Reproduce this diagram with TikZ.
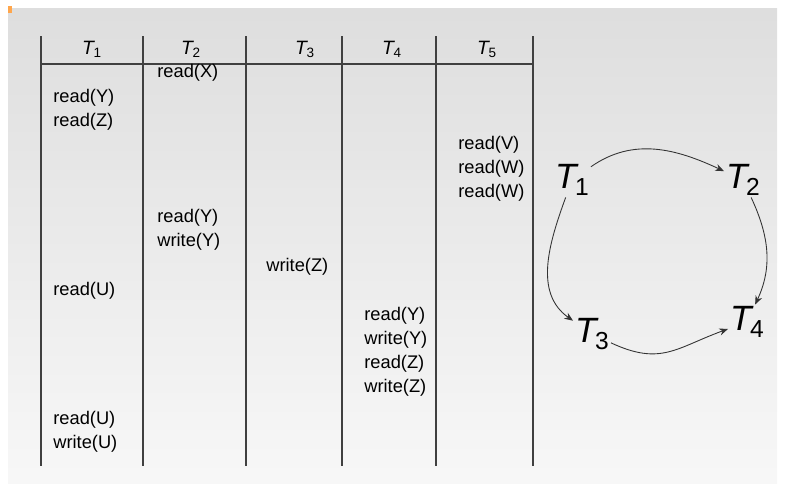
\documentclass[tikz,border=0pt]{standalone}
\usepackage{fontspec}
\setmainfont{Liberation Sans}
\usetikzlibrary{arrows.meta, positioning}

\newcommand{\thead}[1]{\textit{T}\kern-0.8pt\textsubscript{#1}}
\newcommand{\tnode}[1]{\textit{T}\kern-2pt\raisebox{-0.35ex}{\fontsize{14}{14}\selectfont #1}}

\begin{document}
\begin{tikzpicture}[
    x=0.02cm, y=-0.02cm,
    rule/.style={draw=black!75, line width=0.7pt},
    head/.style={font=\fontsize{11}{12}\selectfont},
    op/.style={anchor=west, inner sep=0pt, font=\fontsize{10.4}{12}\selectfont},
    txn/.style={inner sep=1pt, font=\fontsize{20}{22}\selectfont},
    arrow/.style={-{Stealth[length=5pt,width=4pt]}, draw=black!80, line width=0.5pt}
]
    \useasboundingbox (0,0) rectangle (787,491);
    % Background
    \shade[top color=black!13, bottom color=black!3] (8,8) rectangle (777,483);
    \fill[orange!70] (8,6) rectangle (12,13);

    % Table
    \foreach \x in {41,143,246,342,436,533}
        \draw[rule] (\x,36) -- (\x,466);
    \draw[rule] (41,64) -- (533,64);

    \node[head] (h1) at (92,49)  {\thead{1}};
    \node[head] (h2) at (191,49) {\thead{2}};
    \node[head] (h3) at (305,49) {\thead{3}};
    \node[head] (h4) at (392,49) {\thead{4}};
    \node[head] (h5) at (487,49) {\thead{5}};

    % Operations
    \node[op] (x2) at (157,73)  {read(X)};
    \node[op] (y1) at (53,98)   {read(Y)};
    \node[op] (z1) at (53,122)  {read(Z)};
    \node[op] (v5) at (458,145) {read(V)};
    \node[op] (w5) at (458,169) {read(W)};
    \node[op] (ww5) at (458,193) {read(W)};
    \node[op] (y2) at (157,218) {read(Y)};
    \node[op] (wy2) at (157,242) {write(Y)};
    \node[op] (wz3) at (266,267) {write(Z)};
    \node[op] (u1) at (53,291)  {read(U)};
    \node[op] (y4) at (364,316) {read(Y)};
    \node[op] (wy4) at (364,340) {write(Y)};
    \node[op] (z4) at (364,364) {read(Z)};
    \node[op] (wz4) at (364,388) {write(Z)};
    \node[op] (uu1) at (53,420) {read(U)};
    \node[op] (wu1) at (53,444) {write(U)};

    % Precedence graph
    \node[txn] (t1) at (572,180) {\tnode{1}};
    \node[txn] (t2) at (743,180) {\tnode{2}};
    \node[txn] (t3) at (592,334) {\tnode{3}};
    \node[txn] (t4) at (747,322) {\tnode{4}};

    \draw[arrow] (t1) to[out=35, in=155] (t2);
    \draw[arrow] (t1) to[out=250, in=145] (t3);
    \draw[arrow] (t2) to[out=-65, in=65] (t4);
    \draw[arrow] (t3) to[out=-25, in=200, looseness=1.2] (t4);
\end{tikzpicture}
\end{document}
